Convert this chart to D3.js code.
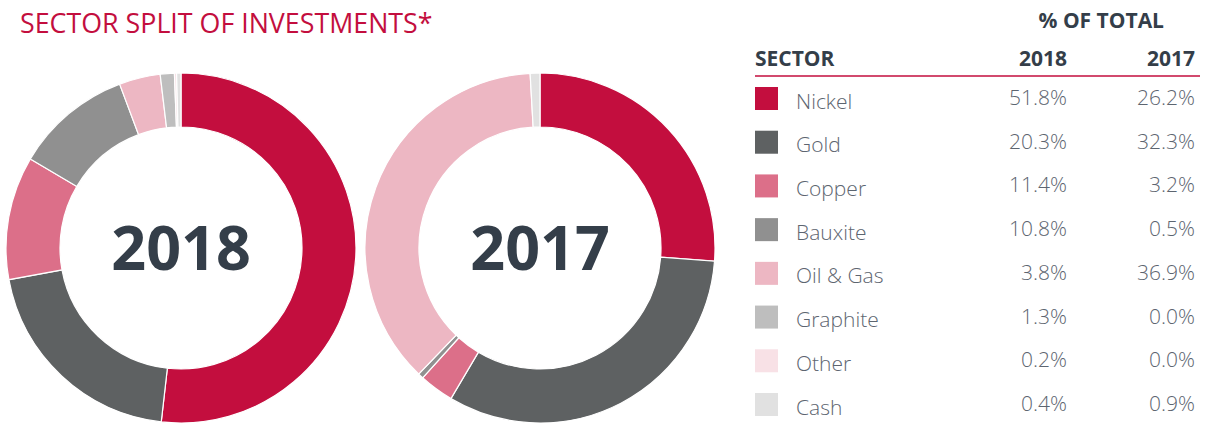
<!DOCTYPE html>
<html lang="en">
<head>
    <meta charset="UTF-8">
    <title>Sector split of investments</title>
    <script src="https://cdn.jsdelivr.net/npm/d3@7"></script>
    <style>
        body { margin: 0; background: #fff; }
        text { font-family: "Open Sans", sans-serif; }
    </style>
</head>
<body>
<div id="chart"></div>

<script>
    // data
    var sectors = ["Nickel", "Gold", "Copper", "Bauxite", "Oil & Gas", "Graphite", "Other", "Cash"];
    var values2018 = [51.8, 20.3, 11.4, 10.8, 3.8, 1.3, 0.2, 0.4];
    var values2017 = [26.2, 32.3, 3.2, 0.5, 36.9, 0.0, 0.0, 0.9];
    var years = ["2018", "2017"];
    var sectorColors = ["#c30e3e", "#5e6162", "#dc6f89", "#909090", "#edb7c3", "#bebebe", "#f8e1e6", "#e1e1e1"];

    var width = 1206, height = 423;
    var red = "#c30e3e", dark = "#343e49", grey = "#5d6570";

    var svg = d3.select("#chart")
        .append("svg")
            .attr("width", width)
            .attr("height", height);

    var color = d3.scaleOrdinal()
        .domain(sectors)
        .range(sectorColors);

    // title
    svg.append("text")
        .attr("x", 20)
        .attr("y", 33)
        .style("font-size", "26.8px")
        .style("font-weight", 400)
        .style("fill", red)
        .text("SECTOR SPLIT OF INVESTMENTS*");

    // donuts
    var pie = d3.pie().sort(null).value(function (d) { return d.value; });
    var arc = d3.arc().innerRadius(121).outerRadius(175);

    function drawDonut(cx, cy, values, label) {
        var data = sectors.map(function (s, i) { return {sector: s, value: values[i]}; });
        var g = svg.append("g")
            .attr("transform", "translate(" + cx + "," + cy + ")");
        g.selectAll("path")
            .data(pie(data))
            .enter()
            .append("path")
                .attr("d", arc)
                .style("fill", function (d) { return color(d.data.sector); })
                .style("stroke", "#fff")
                .style("stroke-width", function (d) { return d.value > 0 ? 1.2 : 0; });
        g.append("text")
            .attr("text-anchor", "middle")
            .attr("y", 22)
            .style("font-size", "61px")
            .style("font-weight", 700)
            .style("fill", dark)
            .text(label);
    }
    drawDonut(181, 248, values2018, years[0]);
    drawDonut(540, 248, values2017, years[1]);

    // table
    var col2018 = 1067, col2017 = 1195, left = 755;

    svg.append("text")
        .attr("x", col2017 - 31)
        .attr("y", 28)
        .attr("text-anchor", "end")
        .style("font-size", "21px")
        .style("font-weight", 700)
        .style("fill", dark)
        .text("% OF TOTAL");

    var header = [{t: "SECTOR", x: left, a: "start"}, {t: years[0], x: col2018, a: "end"}, {t: years[1], x: col2017, a: "end"}];
    svg.selectAll("text.head")
        .data(header)
        .enter()
        .append("text")
            .attr("class", "head")
            .attr("x", function (d) { return d.x; })
            .attr("y", 66)
            .attr("text-anchor", function (d) { return d.a; })
            .style("font-size", "21px")
            .style("font-weight", 700)
            .style("fill", dark)
            .text(function (d) { return d.t; });

    svg.append("line")
        .attr("x1", left).attr("x2", 1200)
        .attr("y1", 76).attr("y2", 76)
        .style("stroke", red)
        .style("stroke-width", 1.5);

    var rowY = d3.scalePoint()
        .domain(sectors)
        .range([98.5, 404.5]);

    var rows = svg.selectAll("g.row")
        .data(sectors)
        .enter()
        .append("g")
            .attr("class", "row")
            .attr("transform", function (d) { return "translate(0," + rowY(d) + ")"; });

    rows.append("rect")
        .attr("x", left)
        .attr("y", -11.5)
        .attr("width", 23)
        .attr("height", 23)
        .style("fill", function (d) { return color(d); });

    rows.append("text")
        .attr("x", 796)
        .attr("y", 10)
        .style("font-size", "21px")
        .style("font-weight", 300)
        .style("fill", grey)
        .text(function (d) { return d; });

    rows.append("text")
        .attr("x", col2018)
        .attr("y", 6.5)
        .attr("text-anchor", "end")
        .style("font-size", "21px")
        .style("font-weight", 300)
        .style("fill", grey)
        .text(function (d, i) { return values2018[i].toFixed(1) + "%"; });

    rows.append("text")
        .attr("x", col2017)
        .attr("y", 6.5)
        .attr("text-anchor", "end")
        .style("font-size", "21px")
        .style("font-weight", 300)
        .style("fill", grey)
        .text(function (d, i) { return values2017[i].toFixed(1) + "%"; });
</script>
</body>
</html>
